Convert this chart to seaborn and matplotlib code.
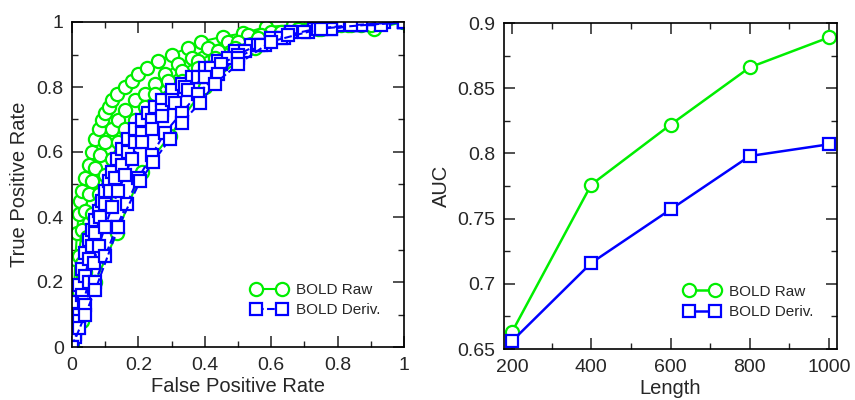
import matplotlib
matplotlib.use("Agg")
import matplotlib.pyplot as plt
import seaborn as sns
from matplotlib.ticker import MultipleLocator

# ============================================================
# DATA
# ============================================================

lengths = [200, 400, 600, 800, 1000]
auc_raw = [0.663, 0.776, 0.822, 0.866, 0.889]
auc_deriv = [0.656, 0.716, 0.757, 0.798, 0.807]

# ROC curves (one per length)
roc_raw = {
    1000: ([0, 0.003, 0.006, 0.01, 0.015, 0.02, 0.025, 0.03, 0.04, 0.05, 0.06, 0.07, 0.08, 0.09, 0.10, 0.11,
            0.12, 0.135, 0.16, 0.18, 0.20, 0.225, 0.26, 0.30, 0.35, 0.39, 0.455, 0.515, 0.585, 0.665, 0.755,
            0.84, 0.92, 1.0],
           [0, 0.08, 0.17, 0.27, 0.35, 0.41, 0.45, 0.48, 0.52, 0.56, 0.60, 0.64, 0.67, 0.70, 0.72, 0.74,
            0.76, 0.78, 0.80, 0.82, 0.84, 0.86, 0.88, 0.90, 0.92, 0.94, 0.955, 0.965, 0.985, 0.99, 1.0,
            0.99, 0.99, 1.0]),
    800: ([0, 0.005, 0.01, 0.02, 0.03, 0.04, 0.05, 0.06, 0.07, 0.085, 0.10, 0.12, 0.14, 0.16, 0.19, 0.22,
           0.25, 0.28, 0.32, 0.36, 0.41, 0.47, 0.53, 0.60, 0.68, 0.77, 0.87, 1.0],
          [0, 0.06, 0.15, 0.28, 0.36, 0.42, 0.47, 0.51, 0.55, 0.59, 0.63, 0.67, 0.70, 0.73, 0.76, 0.78,
           0.81, 0.84, 0.87, 0.89, 0.92, 0.94, 0.96, 0.97, 0.98, 0.99, 0.99, 1.0]),
    600: ([0, 0.01, 0.02, 0.03, 0.045, 0.06, 0.08, 0.10, 0.12, 0.14, 0.16, 0.19, 0.22, 0.25, 0.29, 0.33,
           0.38, 0.44, 0.5, 0.57, 0.65, 0.74, 0.83, 0.91, 1.0],
          [0, 0.07, 0.17, 0.26, 0.34, 0.41, 0.47, 0.53, 0.58, 0.63, 0.67, 0.70, 0.74, 0.78, 0.82, 0.85,
           0.88, 0.91, 0.94, 0.96, 0.97, 0.98, 0.99, 0.98, 1.0]),
    400: ([0, 0.01, 0.025, 0.04, 0.06, 0.08, 0.10, 0.12, 0.15, 0.18, 0.21, 0.25, 0.29, 0.33, 0.38, 0.43,
           0.49, 0.56, 0.63, 0.72, 0.81, 0.9, 1.0],
          [0, 0.05, 0.14, 0.23, 0.32, 0.40, 0.46, 0.52, 0.58, 0.64, 0.68, 0.72, 0.77, 0.82, 0.86, 0.89,
           0.92, 0.95, 0.97, 0.98, 0.99, 0.99, 1.0]),
    200: ([0, 0.03, 0.07, 0.135, 0.21, 0.295, 0.40, 0.55, 0.75, 1.0],
          [0, 0.08, 0.2, 0.35, 0.54, 0.65, 0.8, 0.92, 0.98, 1.0]),
}

roc_deriv = {
    1000: ([0, 0.005, 0.01, 0.015, 0.02, 0.03, 0.04, 0.05, 0.06, 0.07, 0.08, 0.09, 0.10, 0.11, 0.12, 0.135,
            0.15, 0.17, 0.19, 0.21, 0.23, 0.25, 0.27, 0.30, 0.33, 0.36, 0.40, 0.44, 0.49, 0.54, 0.6, 0.66,
            0.73, 0.8, 0.87, 0.94, 1.0],
           [0, 0.04, 0.09, 0.14, 0.19, 0.24, 0.29, 0.33, 0.36, 0.39, 0.42, 0.45, 0.48, 0.51, 0.54, 0.58,
            0.61, 0.64, 0.67, 0.70, 0.72, 0.74, 0.76, 0.79, 0.81, 0.83, 0.86, 0.88, 0.91, 0.93, 0.95, 0.97,
            0.98, 0.99, 0.99, 1.0, 1.0]),
    800: ([0, 0.01, 0.02, 0.03, 0.04, 0.05, 0.06, 0.07, 0.085, 0.10, 0.115, 0.13, 0.15, 0.17, 0.19, 0.21,
           0.24, 0.27, 0.30, 0.34, 0.38, 0.42, 0.47, 0.52, 0.58, 0.64, 0.71, 0.78, 0.86, 0.93, 1.0],
          [0, 0.04, 0.10, 0.16, 0.22, 0.27, 0.31, 0.35, 0.40, 0.44, 0.48, 0.52, 0.56, 0.60, 0.63, 0.66,
           0.70, 0.73, 0.76, 0.80, 0.83, 0.86, 0.89, 0.91, 0.93, 0.95, 0.97, 0.98, 0.99, 0.99, 1.0]),
    600: ([0, 0.01, 0.02, 0.035, 0.05, 0.065, 0.08, 0.10, 0.12, 0.14, 0.16, 0.18, 0.21, 0.24, 0.27, 0.31,
           0.35, 0.40, 0.45, 0.50, 0.56, 0.63, 0.70, 0.78, 0.87, 1.0],
          [0, 0.03, 0.08, 0.14, 0.2, 0.26, 0.31, 0.37, 0.43, 0.48, 0.53, 0.58, 0.63, 0.67, 0.71, 0.75,
           0.79, 0.83, 0.87, 0.90, 0.93, 0.95, 0.97, 0.98, 0.99, 1.0]),
    400: ([0, 0.02, 0.04, 0.07, 0.10, 0.135, 0.165, 0.20, 0.24, 0.28, 0.33, 0.38, 0.44, 0.5, 0.57, 0.65,
           0.74, 0.84, 1.0],
          [0, 0.06, 0.13, 0.2, 0.28, 0.37, 0.44, 0.52, 0.59, 0.66, 0.72, 0.78, 0.84, 0.89, 0.93, 0.96,
           0.98, 0.99, 1.0]),
    200: ([0, 0.04, 0.07, 0.14, 0.205, 0.245, 0.295, 0.33, 0.385, 0.43, 0.5, 0.6, 0.75, 1.0],
          [0, 0.1, 0.175, 0.37, 0.51, 0.57, 0.64, 0.69, 0.75, 0.81, 0.87, 0.94, 0.98, 1.0]),
}

GREEN = "#00EE00"
BLUE = "#0000FF"

# ============================================================
# PLOT
# ============================================================

sns.set_style("ticks")
plt.rcParams["font.family"] = ["Liberation Sans", "DejaVu Sans"]

fig = plt.figure(figsize=(8.55, 4.0), dpi=100)
ax1 = fig.add_axes([0.0842, 0.1325, 0.3883, 0.8125])
ax2 = fig.add_axes([0.5895, 0.1275, 0.3895, 0.815])

# ---- left: ROC curves
for i, L in enumerate(lengths[::-1]):
    fpr, tpr = roc_raw[L]
    sns.lineplot(x=fpr, y=tpr, sort=False, ax=ax1, color=GREEN, lw=1.5,
                 marker="o", markersize=9.5, markerfacecolor="white",
                 markeredgecolor=GREEN, markeredgewidth=1.6,
                 label="BOLD Raw" if i == 0 else None)
for i, L in enumerate(lengths[::-1]):
    fpr, tpr = roc_deriv[L]
    sns.lineplot(x=fpr, y=tpr, sort=False, ax=ax1, color=BLUE, lw=1.5, linestyle="--",
                 marker="s", markersize=8.5, markerfacecolor="white",
                 markeredgecolor=BLUE, markeredgewidth=1.6,
                 label="BOLD Deriv." if i == 0 else None)

ax1.set_xlim(0, 1)
ax1.set_ylim(0, 1)
ax1.set_xticks([0, 0.2, 0.4, 0.6, 0.8, 1.0])
ax1.set_yticks([0, 0.2, 0.4, 0.6, 0.8, 1.0])
ax1.xaxis.set_minor_locator(MultipleLocator(0.1))
ax1.yaxis.set_minor_locator(MultipleLocator(0.1))
ax1.set_xticklabels(["0", "0.2", "0.4", "0.6", "0.8", "1"], fontsize=14)
ax1.set_yticklabels(["0", "0.2", "0.4", "0.6", "0.8", "1"], fontsize=14)
ax1.set_xlabel("False Positive Rate", fontsize=14.5, labelpad=2)
ax1.set_ylabel("True Positive Rate", fontsize=14.5, labelpad=5)

# ---- right: AUC vs length
sns.lineplot(x=lengths, y=auc_raw, ax=ax2, color=GREEN, lw=1.8,
             marker="o", markersize=9.5, markerfacecolor="white",
             markeredgecolor=GREEN, markeredgewidth=1.6, label="BOLD Raw")
sns.lineplot(x=lengths, y=auc_deriv, ax=ax2, color=BLUE, lw=1.8,
             marker="s", markersize=8.5, markerfacecolor="white",
             markeredgecolor=BLUE, markeredgewidth=1.6, label="BOLD Deriv.")

ax2.set_xlim(180, 1020)
ax2.set_ylim(0.65, 0.9)
ax2.set_xticks(lengths)
ax2.xaxis.set_minor_locator(MultipleLocator(100))
ax2.yaxis.set_minor_locator(MultipleLocator(0.025))
ax2.set_xticklabels([str(v) for v in lengths], fontsize=14)
ax2.set_yticks([0.65, 0.7, 0.75, 0.8, 0.85, 0.9])
ax2.set_yticklabels(["0.65", "0.7", "0.75", "0.8", "0.85", "0.9"], fontsize=14)
ax2.set_xlabel("Length", fontsize=14.5, labelpad=2)
ax2.set_ylabel("AUC", fontsize=14.5, labelpad=5)

for ax in (ax1, ax2):
    for s in ax.spines.values():
        s.set_visible(True)
        s.set_linewidth(1.2)
        s.set_color("black")
    ax.tick_params(which="both", direction="in", top=True, right=True, color="#222222")
    ax.tick_params(which="major", length=8, width=1.1)
    ax.tick_params(axis="x", which="major", pad=7)
    ax.tick_params(axis="y", which="major", pad=6)
    ax.tick_params(which="minor", length=4, width=1.0)
    ax.grid(False)
    ax.legend(loc="lower right", bbox_to_anchor=(0.97, 0.05), frameon=False, fontsize=11,
              numpoints=2, handlelength=2.3, handletextpad=0.6, labelspacing=0.4)

fig.savefig("out.png", dpi=100)
